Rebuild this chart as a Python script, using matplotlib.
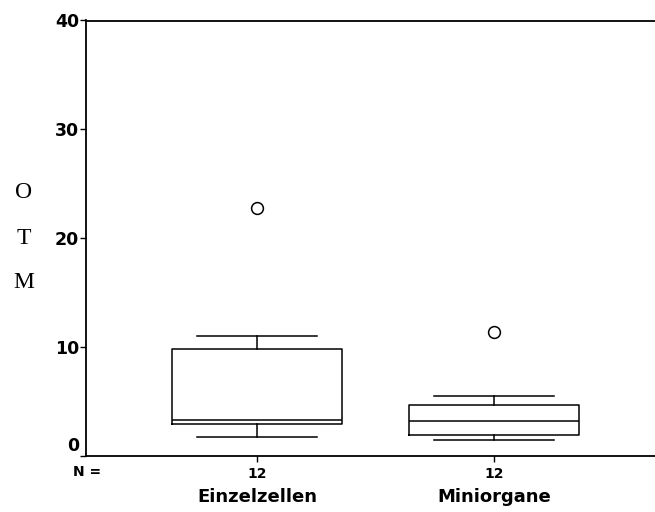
import matplotlib
matplotlib.use("Agg")
import matplotlib.pyplot as plt
from matplotlib.transforms import ScaledTranslation, blended_transform_factory

# values
groups   = ["Einzelzellen", "Miniorgane"]
n_values = [12, 12]
whis_lo  = [1.7, 1.5]
q1       = [2.9, 1.95]
median   = [3.3, 3.25]
q3       = [9.8, 4.65]
whis_hi  = [11.0, 5.55]
outliers = [[22.75], [11.4]]
y_ticks  = [0, 10, 20, 30, 40]

stats = []
for i, g in enumerate(groups):
    stats.append({"label": g, "whislo": whis_lo[i], "q1": q1[i], "med": median[i],
                  "q3": q3[i], "whishi": whis_hi[i], "fliers": outliers[i]})

fig = plt.figure(figsize=(6.55, 5.12), dpi=100)
ax = fig.add_axes([86 / 655, 1 - 456 / 512, 1 - 86 / 655, (456 - 20.5) / 512])

line = dict(color="black", linewidth=1.1)
positions = [1, 2]
ax.bxp(stats, positions=positions, widths=0.717, capwidths=0.506,
       boxprops=line, whiskerprops=line, capprops=line,
       medianprops=dict(color="black", linewidth=1.1),
       flierprops=dict(marker="o", markersize=8.5, markerfacecolor="white",
                       markeredgecolor="black", markeredgewidth=1.1),
       showfliers=True)

ax.set_xlim(0.278, 2.68)
ax.set_ylim(0, 40)

ax.spines["right"].set_visible(False)
for s in ["left", "bottom", "top"]:
    ax.spines[s].set_linewidth(1.3)

bold = dict(family="DejaVu Sans", weight="bold")
ax.set_yticks(y_ticks)
ax.set_yticklabels([str(v) for v in y_ticks], fontsize=12.5, **bold)
ax.tick_params(axis="y", direction="out", length=4, width=1, pad=1)
lab0 = ax.get_yticklabels()[0]
lab0.set_transform(lab0.get_transform() + ScaledTranslation(0, 12 / 100, fig.dpi_scale_trans))

ax.set_xticks(positions)
ax.set_xticklabels([str(n) for n in n_values], fontsize=10, **bold)
ax.tick_params(axis="x", direction="out", length=4, width=1, pad=4)

trans = blended_transform_factory(ax.transData, ax.transAxes)
for p, g in zip(positions, groups):
    ax.text(p, -0.094, g, transform=trans, ha="center", va="center", fontsize=13, **bold)

fig.text(73 / 655, 1 - 472 / 512, "N =", ha="left", va="center", fontsize=10, **bold)

for ch, yy in zip("OTM", [192, 238, 283]):
    fig.text(24 / 655, 1 - yy / 512, ch, ha="center", va="center",
             fontsize=17, family="Liberation Serif")

fig.savefig("out.png", dpi=100)
